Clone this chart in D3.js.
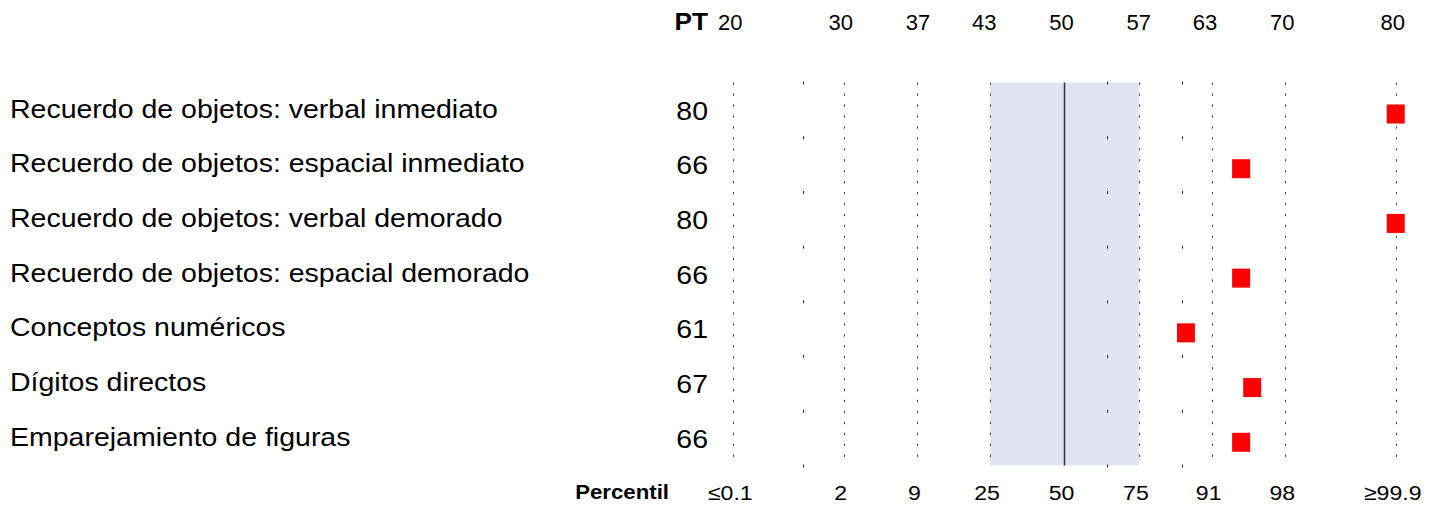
<!DOCTYPE html>
<html>
<head>
<meta charset="utf-8">
<script src="https://cdn.jsdelivr.net/npm/d3@7"></script>
<style>
    body { margin: 0; background: #fff; }
    text { font-family: "Liberation Sans", Arial, sans-serif; fill: #000; }
</style>
</head>
<body>
<div id="chart"></div>
<script>
const tests = [
    "Recuerdo de objetos: verbal inmediato",
    "Recuerdo de objetos: espacial inmediato",
    "Recuerdo de objetos: verbal demorado",
    "Recuerdo de objetos: espacial demorado",
    "Conceptos numéricos",
    "Dígitos directos",
    "Emparejamiento de figuras"
];
const scores = [80, 66, 80, 66, 61, 67, 66];

const ptTicks = [20, 30, 37, 43, 50, 57, 63, 70, 80];
const percentileLabels = ["≤0.1", "2", "9", "25", "50", "75", "91", "98", "≥99.9"];
const percentilePT = [20, 30, 36.67, 43.26, 50, 56.74, 63.33, 70, 80];
const minorTickPT = [26.34, 53.82, 60.67];

function drawProfile() {
    d3.select("#chart").selectAll("svg").remove();

    const width = 1440, height = 506;
    const plotTop = 82.5, plotBottom = 465.5;
    const stretch = 1.14; // text in the picture is a bit wider than normal
    const labelShift = -3; // tick labels sit slightly left of their lines

    const svg = d3.select("#chart")
        .append("svg")
        .attr("width", width)
        .attr("height", height);

    const x = d3.scaleLinear()
        .domain([20, 80])
        .range([733.3, 1395.7]);

    const y = d3.scaleBand()
        .domain(d3.range(tests.length))
        .range([plotTop, plotBottom]);

    const rowH = y.bandwidth();

    // average band (percentile 25 - 75)
    svg.append("rect")
        .attr("x", x(percentilePT[3]))
        .attr("y", plotTop)
        .attr("width", x(percentilePT[5]) - x(percentilePT[3]))
        .attr("height", plotBottom - plotTop)
        .attr("fill", "#e1e4f3");

    // dotted grid lines
    svg.selectAll(".grid")
        .data(percentilePT.filter(d => d !== 50))
        .enter().append("line")
        .attr("class", "grid")
        .attr("x1", d => Math.round(x(d)) + 0.5)
        .attr("x2", d => Math.round(x(d)) + 0.5)
        .attr("y1", plotTop)
        .attr("y2", plotBottom)
        .attr("stroke", "#444")
        .attr("stroke-width", 1)
        .attr("stroke-dasharray", "2.4," + (rowH / 5 - 2.4));

    // mean line
    svg.append("line")
        .attr("x1", x(50))
        .attr("x2", x(50))
        .attr("y1", plotTop)
        .attr("y2", plotBottom)
        .attr("stroke", "#333")
        .attr("stroke-width", 1.5);

    // short marks on row boundaries
    const boundaries = d3.range(tests.length + 1).map(i => plotTop + i * rowH);
    minorTickPT.forEach(p => {
        svg.selectAll(null)
            .data(boundaries)
            .enter().append("line")
            .attr("x1", Math.round(x(p)) + 0.5)
            .attr("x2", Math.round(x(p)) + 0.5)
            .attr("y1", d => d - 1)
            .attr("y2", d => d + 2)
            .attr("stroke", "#222")
            .attr("stroke-width", 1);
    });

    function stretchedText(sel, tx, ty, sx) {
        const s = sx || stretch;
        return sel.attr("transform", (d, i) => "translate(" + tx(d, i) + "," + ty(d, i) + ") scale(" + s + ",1)");
    }

    // test names
    stretchedText(svg.selectAll(".label")
        .data(tests)
        .enter().append("text")
        .attr("class", "label")
        .attr("font-size", 25)
        .text(d => d), () => 10, (d, i) => y(i) + 35);

    // scores
    stretchedText(svg.selectAll(".score")
        .data(scores)
        .enter().append("text")
        .attr("class", "score")
        .attr("font-size", 25)
        .attr("text-anchor", "end")
        .text(d => d), () => 708, (d, i) => y(i) + 37);

    // markers
    svg.selectAll(".marker")
        .data(scores)
        .enter().append("rect")
        .attr("class", "marker")
        .attr("x", d => x(d) - 9)
        .attr("y", (d, i) => y(i) + 31.5 - 9.5)
        .attr("width", 18)
        .attr("height", 19)
        .attr("fill", "#ff0000");

    // top PT scale
    stretchedText(svg.append("text").datum("PT")
        .attr("font-size", 23)
        .attr("font-weight", "bold")
        .attr("text-anchor", "end")
        .text("PT"), () => 708, () => 29.5);

    stretchedText(svg.selectAll(".pt-tick")
        .data(ptTicks)
        .enter().append("text")
        .attr("class", "pt-tick")
        .attr("font-size", 22)
        .attr("text-anchor", "middle")
        .text(d => d), d => x(d) + labelShift, () => 29.5, 1);

    // bottom percentile scale
    stretchedText(svg.append("text").datum("Percentil")
        .attr("font-size", 19.5)
        .attr("font-weight", "bold")
        .attr("text-anchor", "end")
        .text("Percentil"), () => 669, () => 499);

    stretchedText(svg.selectAll(".pc-tick")
        .data(percentileLabels)
        .enter().append("text")
        .attr("class", "pc-tick")
        .attr("font-size", 21)
        .attr("text-anchor", "middle")
        .text(d => d), (d, i) => x(percentilePT[i]) + labelShift, () => 499.5, 1.1);
}

drawProfile();
</script>
</body>
</html>
